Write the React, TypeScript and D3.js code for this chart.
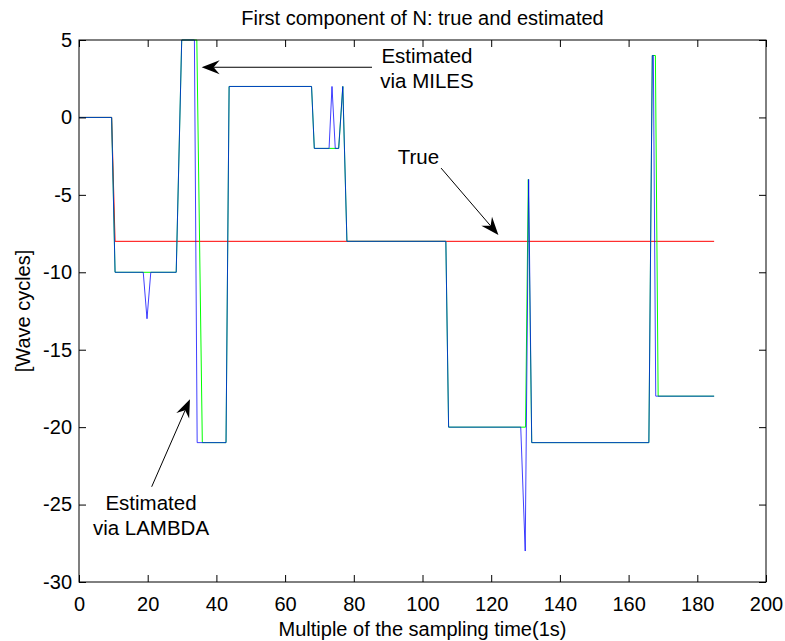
import React, { useEffect, useRef } from 'react'
import * as d3 from 'd3'

// breakpoints: [sample time, wave cycles]
const trueN: [number, number][] = [
  [0, 0], [9.5, 0], [10.5, -8], [184.9, -8],
]

const milesN: [number, number][] = [
  [0, 0], [9.5, 0], [10.5, -10], [28.3, -10], [29.9, 5], [34.3, 5], [35.9, -21],
  [42.8, -21], [43.7, 2], [67.7, 2], [68.5, -2], [75.6, -2], [76.8, 2], [78, -8],
  [106.8, -8], [107.6, -20], [130, -20], [130.8, -4], [131.8, -21], [165.9, -21],
  [166.9, 4], [167.8, 4], [168.6, -18], [184.9, -18],
]

const lambdaN: [number, number][] = [
  [0, 0], [9.5, 0], [10.5, -10], [18.7, -10], [19.8, -13], [20.9, -10], [28.3, -10],
  [29.9, 5], [33.6, 5], [34.4, -21], [42.8, -21], [43.7, 2], [67.7, 2], [68.5, -2],
  [72.8, -2], [73.65, 2], [74.6, -2], [75.6, -2], [76.8, 2], [78, -8], [106.8, -8],
  [107.6, -20], [128.6, -20], [129.9, -28], [130.9, -4], [131.8, -21], [165.9, -21],
  [166.9, 4], [167.2, 4], [167.9, -18], [184.9, -18],
]

const xTickValues = [0, 20, 40, 60, 80, 100, 120, 140, 160, 180, 200]
const yTickValues = [5, 0, -5, -10, -15, -20, -25, -30]

// annotations in data units: text lines, text anchor point, arrow tail and tip
const notes = [
  { lines: ['Estimated', 'via MILES'], at: [101.3, 3.5], tail: [85.3, 3.24], tip: [35.7, 3.24] },
  { lines: ['True'], at: [98.8, -3.0], tail: [105.4, -3.27], tip: [122.1, -7.59] },
  { lines: ['Estimated', 'via LAMBDA'], at: [20.96, -25.35], tail: [21.16, -23.85], tip: [32.3, -18.2] },
]

const FONT = '"Liberation Sans", Arial, Helvetica, sans-serif'

const App = () => {
  const ref = useRef<SVGSVGElement>(null)

  useEffect(() => {
    const width = 785
    const height = 641
    const margin = { top: 40, right: 19, bottom: 59, left: 79 }

    const svg = d3.select(ref.current).attr('width', width).attr('height', height)
    svg.selectAll('*').remove()

    const x = d3.scaleLinear().domain([0, 200]).range([margin.left, width - margin.right])
    const y = d3.scaleLinear().domain([-30, 5]).range([height - margin.bottom, margin.top])

    svg.append('rect').attr('width', width).attr('height', height).attr('fill', '#fff')

    svg.append('clipPath').attr('id', 'plot')
      .append('rect')
      .attr('x', x(0)).attr('y', y(5) - 1)
      .attr('width', x(200) - x(0)).attr('height', y(-30) - y(5) + 2)

    const line = d3.line<[number, number]>().x((d) => x(d[0])).y((d) => y(d[1]))

    const g = svg.append('g').attr('clip-path', 'url(#plot)').attr('fill', 'none')
    g.append('path').attr('d', line(trueN)).attr('stroke', '#ff0000').attr('stroke-width', 1)
    g.append('path').attr('d', line(milesN)).attr('stroke', '#00ff00').attr('stroke-width', 1)
    g.append('path').attr('d', line(lambdaN)).attr('stroke', '#0000ff')
      .attr('stroke-width', 1).attr('stroke-opacity', 0.75)

    // axes, ticks pointing inward on all four sides
    const plain = (d) => String(d)
    const styleAxis = (sel) => {
      sel.select('.domain').remove()
      sel.selectAll('line').attr('stroke', '#000')
      sel.selectAll('text').attr('fill', '#000').style('font-family', FONT).style('font-size', '20px')
    }
    svg.append('g').attr('transform', `translate(0,${y(-30)})`)
      .call(d3.axisBottom(x).tickValues(xTickValues).tickFormat(plain).tickSizeInner(-7).tickSizeOuter(0).tickPadding(15))
      .call(styleAxis)
    svg.append('g').attr('transform', `translate(0,${y(5)})`)
      .call(d3.axisTop(x).tickValues(xTickValues).tickSizeInner(-7).tickSizeOuter(0).tickFormat(() => ''))
      .call(styleAxis)
    svg.append('g').attr('transform', `translate(${x(0)},0)`)
      .call(d3.axisLeft(y).tickValues(yTickValues).tickFormat(plain).tickSizeInner(-7).tickSizeOuter(0).tickPadding(7))
      .call(styleAxis)
    svg.append('g').attr('transform', `translate(${x(200)},0)`)
      .call(d3.axisRight(y).tickValues(yTickValues).tickSizeInner(-7).tickSizeOuter(0).tickFormat(() => ''))
      .call(styleAxis)

    svg.append('rect')
      .attr('x', x(0)).attr('y', y(5))
      .attr('width', x(200) - x(0)).attr('height', y(-30) - y(5))
      .attr('fill', 'none').attr('stroke', '#000').attr('stroke-width', 1)

    const cx = (x(0) + x(200)) / 2
    const text = (t, px, py) =>
      svg.append('text').text(t).attr('x', px).attr('y', py)
        .attr('text-anchor', 'middle').attr('fill', '#000')
        .style('font-family', FONT).style('font-size', '20px')

    text('First component of N: true and estimated', cx, 25)
    text('Multiple of the sampling time(1s)', cx, 636)
    text('[Wave cycles]', 0, 0).attr('transform', `translate(30,${(y(5) + y(-30)) / 2}) rotate(-90)`)

    // annotation arrows with notched filled heads
    const headLen = 18
    const headW = 14
    const notch = 12
    notes.forEach((n) => {
      const x0 = x(n.tail[0])
      const y0 = y(n.tail[1])
      const x1 = x(n.tip[0])
      const y1 = y(n.tip[1])
      const a = Math.atan2(y1 - y0, x1 - x0)
      const ux = Math.cos(a)
      const uy = Math.sin(a)
      const px = -uy
      const py = ux
      const nx = x1 - ux * notch
      const ny = y1 - uy * notch
      svg.append('line')
        .attr('x1', x0).attr('y1', y0).attr('x2', nx).attr('y2', ny)
        .attr('stroke', '#000').attr('stroke-width', 1)
      const bx = x1 - ux * headLen
      const by = y1 - uy * headLen
      const head = [
        [x1, y1],
        [bx + px * headW / 2, by + py * headW / 2],
        [nx, ny],
        [bx - px * headW / 2, by - py * headW / 2],
      ]
      svg.append('path').attr('d', 'M' + head.map((p) => p.join(',')).join('L') + 'Z').attr('fill', '#000')

      n.lines.forEach((s, i) => {
        svg.append('text').text(s)
          .attr('x', x(n.at[0])).attr('y', y(n.at[1]) + i * 25)
          .attr('text-anchor', 'middle').attr('fill', '#000')
          .style('font-family', FONT).style('font-size', '20.5px')
      })
    })
  }, [])

  return (
    <div style={{ position: 'absolute', left: 0, top: 0 }}>
      <svg ref={ref} style={{ display: 'block' }}></svg>
    </div>
  )
}

export default App
